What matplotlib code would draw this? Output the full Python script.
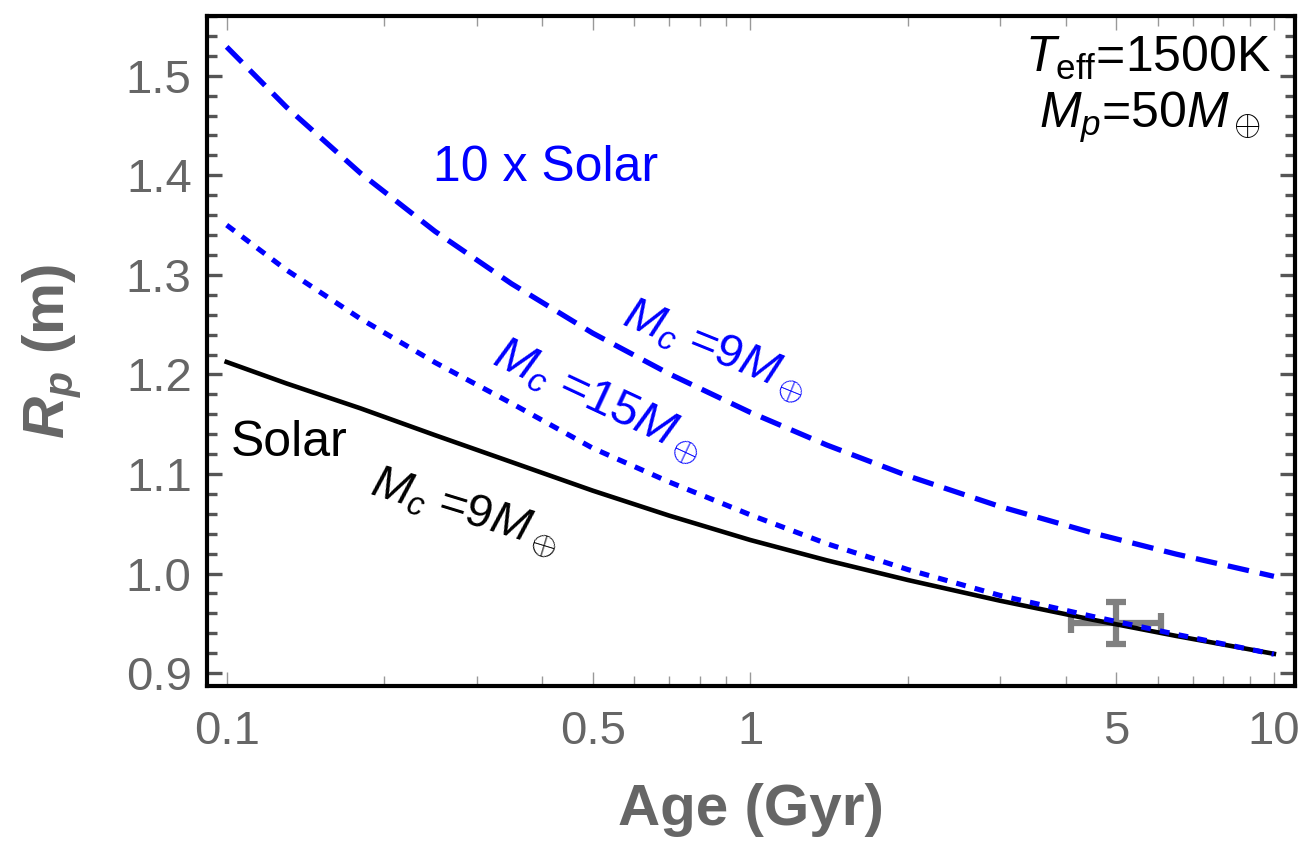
import matplotlib

matplotlib.use("Agg")
import matplotlib.pyplot as plt
from matplotlib.ticker import FixedLocator, FixedFormatter, MultipleLocator, FormatStrFormatter

plt.rcParams["font.family"] = ["Liberation Sans", "DejaVu Sans"]
plt.rcParams["mathtext.fontset"] = "custom"
plt.rcParams["mathtext.rm"] = "Liberation Sans"
plt.rcParams["mathtext.it"] = "Liberation Sans:italic"
plt.rcParams["mathtext.bf"] = "Liberation Sans:bold"
plt.rcParams["mathtext.bfit"] = "Liberation Sans:italic:bold"

GRAY = "#666666"
BLUE = "#0000ff"

# ages (Gyr) and planet radii
age = [0.1, 0.13, 0.18, 0.25, 0.35, 0.5, 0.7, 1.0, 1.4, 2.0, 3.0, 4.5, 6.5, 10.0]
r_solar_core9 = [1.2125, 1.191, 1.166, 1.139, 1.112, 1.0833, 1.0582, 1.0337,
                 1.0133, 0.9935, 0.9727, 0.9537, 0.9374, 0.9194]
r_10x_core15 = [1.350, 1.305, 1.256, 1.212, 1.171, 1.126, 1.092, 1.059,
                1.030, 1.004, 0.978, 0.957, 0.939, 0.919]
r_10x_core9 = [1.529, 1.4686, 1.4023, 1.3437, 1.2911, 1.2415, 1.2006, 1.1619,
               1.1291, 1.0981, 1.0673, 1.0409, 1.0196, 0.9972]

# observed point with error bars
obs_age = [5.0]
obs_r = [0.95]
obs_age_err = [[0.9], [1.1]]
obs_r_err = [0.021]

xticks = [0.1, 0.5, 1, 5, 10]
xticklabels = ["0.1", "0.5", "1", "5", "10"]
xminor = [0.2, 0.3, 0.4, 0.6, 0.7, 0.8, 0.9, 2, 3, 4, 6, 7, 8, 9]

fig = plt.figure(figsize=(13.05, 8.47), dpi=100)
ax = fig.add_axes([0.1586, 0.190, 0.8337, 0.7911])

ax.errorbar(obs_age, obs_r, xerr=obs_age_err, yerr=obs_r_err, fmt="none",
            ecolor="#808080", elinewidth=4.5, capsize=7, capthick=4.5, zorder=2)
ax.plot(age, r_solar_core9, color="black", lw=3.3, zorder=3)
ax.plot(age, r_10x_core15, color=BLUE, lw=3.7, dashes=(1.9, 1.8), zorder=4)
ax.plot(age, r_10x_core9, color=BLUE, lw=3.8, dashes=(4.1, 2.1), zorder=4)

ax.set_xscale("log")
ax.set_xlim(0.0917, 10.97)
ax.set_ylim(0.887, 1.56)

ax.xaxis.set_major_locator(FixedLocator(xticks))
ax.xaxis.set_major_formatter(FixedFormatter(xticklabels))
ax.xaxis.set_minor_locator(FixedLocator(xminor))
ax.xaxis.set_minor_formatter(FixedFormatter([""] * len(xminor)))
ax.yaxis.set_major_locator(MultipleLocator(0.1))
ax.yaxis.set_major_formatter(FormatStrFormatter("%.1f"))
ax.yaxis.set_minor_locator(MultipleLocator(0.02))

ax.tick_params(axis="both", which="both", direction="in", top=True, right=True,
               labelcolor=GRAY, labelsize=34)
ax.tick_params(axis="x", which="major", length=10, width=1.0, color="#999999", pad=17)
ax.tick_params(axis="x", which="minor", length=7, width=1.0, color="#999999")
ax.tick_params(axis="y", which="major", length=11, width=2.4, color="#555555", pad=11)
ax.tick_params(axis="y", which="minor", length=7, width=2.4, color="#555555")
for s in ax.spines.values():
    s.set_linewidth(3.0)
    s.set_color("black")

ax.set_xlabel("Age (Gyr)", fontsize=42, fontweight="bold", color=GRAY)
ax.set_ylabel(r"$\mathbfit{R}_{\mathbfit{p}}$ (m)", fontsize=42,
              fontweight="bold", color=GRAY)
ax.xaxis.set_label_coords(0.5, -0.145)
ax.yaxis.set_label_coords(-0.114, 0.5)

# curve annotations
ax.text(0.311, 0.773, "10 x Solar", transform=ax.transAxes, color=BLUE,
        fontsize=36, ha="center", va="center")
ax.text(0.022, 0.363, "Solar", transform=ax.transAxes, color="black",
        fontsize=36, ha="left", va="center")
ax.text(0.467, 0.501, r"$M_c$ =9$M_\oplus$", transform=ax.transAxes, color=BLUE,
        fontsize=34, ha="center", va="center", rotation=-22, rotation_mode="anchor")
ax.text(0.359, 0.425, r"$M_c$ =15$M_\oplus$", transform=ax.transAxes, color=BLUE,
        fontsize=35, ha="center", va="center", rotation=-25, rotation_mode="anchor")
ax.text(0.237, 0.260, r"$M_c$ =9$M_\oplus$", transform=ax.transAxes, color="black",
        fontsize=34, ha="center", va="center", rotation=-17, rotation_mode="anchor")

ax.text(0.865, 0.937, r"$T_{\rm eff}$=1500K", transform=ax.transAxes,
        color="black", fontsize=36, ha="center", va="center")
ax.text(0.867, 0.848, r"$M_p$=50$M_\oplus$", transform=ax.transAxes,
        color="black", fontsize=36, ha="center", va="center")

fig.savefig("out.png", dpi=100)
